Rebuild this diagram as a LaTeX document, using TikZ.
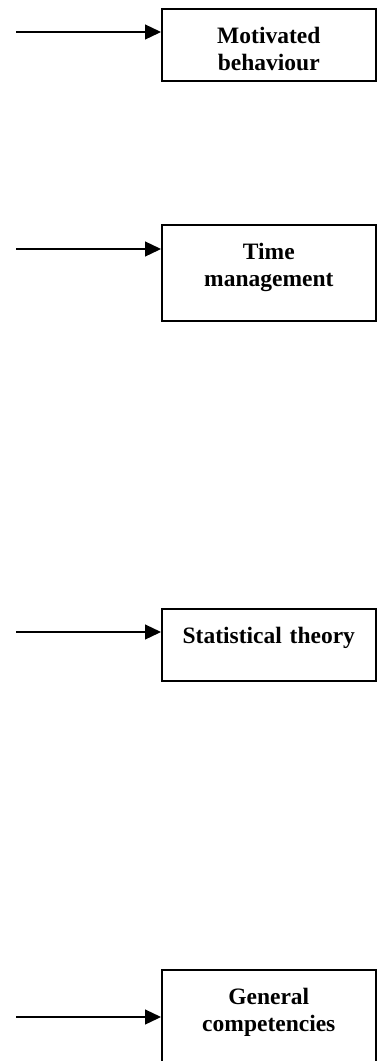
\documentclass[tikz,border=0pt]{standalone}
\usepackage{fontspec}
\setmainfont{Liberation Serif}
\usetikzlibrary{arrows.meta}

\begin{document}
\begin{tikzpicture}[x=1pt, y=1pt,
  box/.style={draw, line width=1.6pt, anchor=north west, inner sep=0pt,
    text width=214pt, align=center, text height=35pt,
    font=\fontsize{23.5}{27}\selectfont\bfseries},
  feed/.style={-{Triangle[length=16pt, width=15pt]}, line width=1.3pt}]
\useasboundingbox (0,0) rectangle (377,-1061);
\node[box, text depth=37pt] (motiv) at (161,-8) {Motivated\\behaviour};
\node[box, text depth=61pt] (time) at (161,-224) {Time\\management};
\node[box, text depth=37pt] (stat) at (161,-608) {Statistical theory};
\node[box, text depth=61pt] (comp) at (161,-969) {General\\competencies};
\coordinate (motivin) at (16,-32);
\coordinate (timein) at (16,-249);
\coordinate (statin) at (16,-632);
\coordinate (compin) at (16,-1017);
\draw[feed] (motivin) -- (motivin -| motiv.west);
\draw[feed] (timein) -- (timein -| time.west);
\draw[feed] (statin) -- (statin -| stat.west);
\draw[feed] (compin) -- (compin -| comp.west);
\end{tikzpicture}
\end{document}
